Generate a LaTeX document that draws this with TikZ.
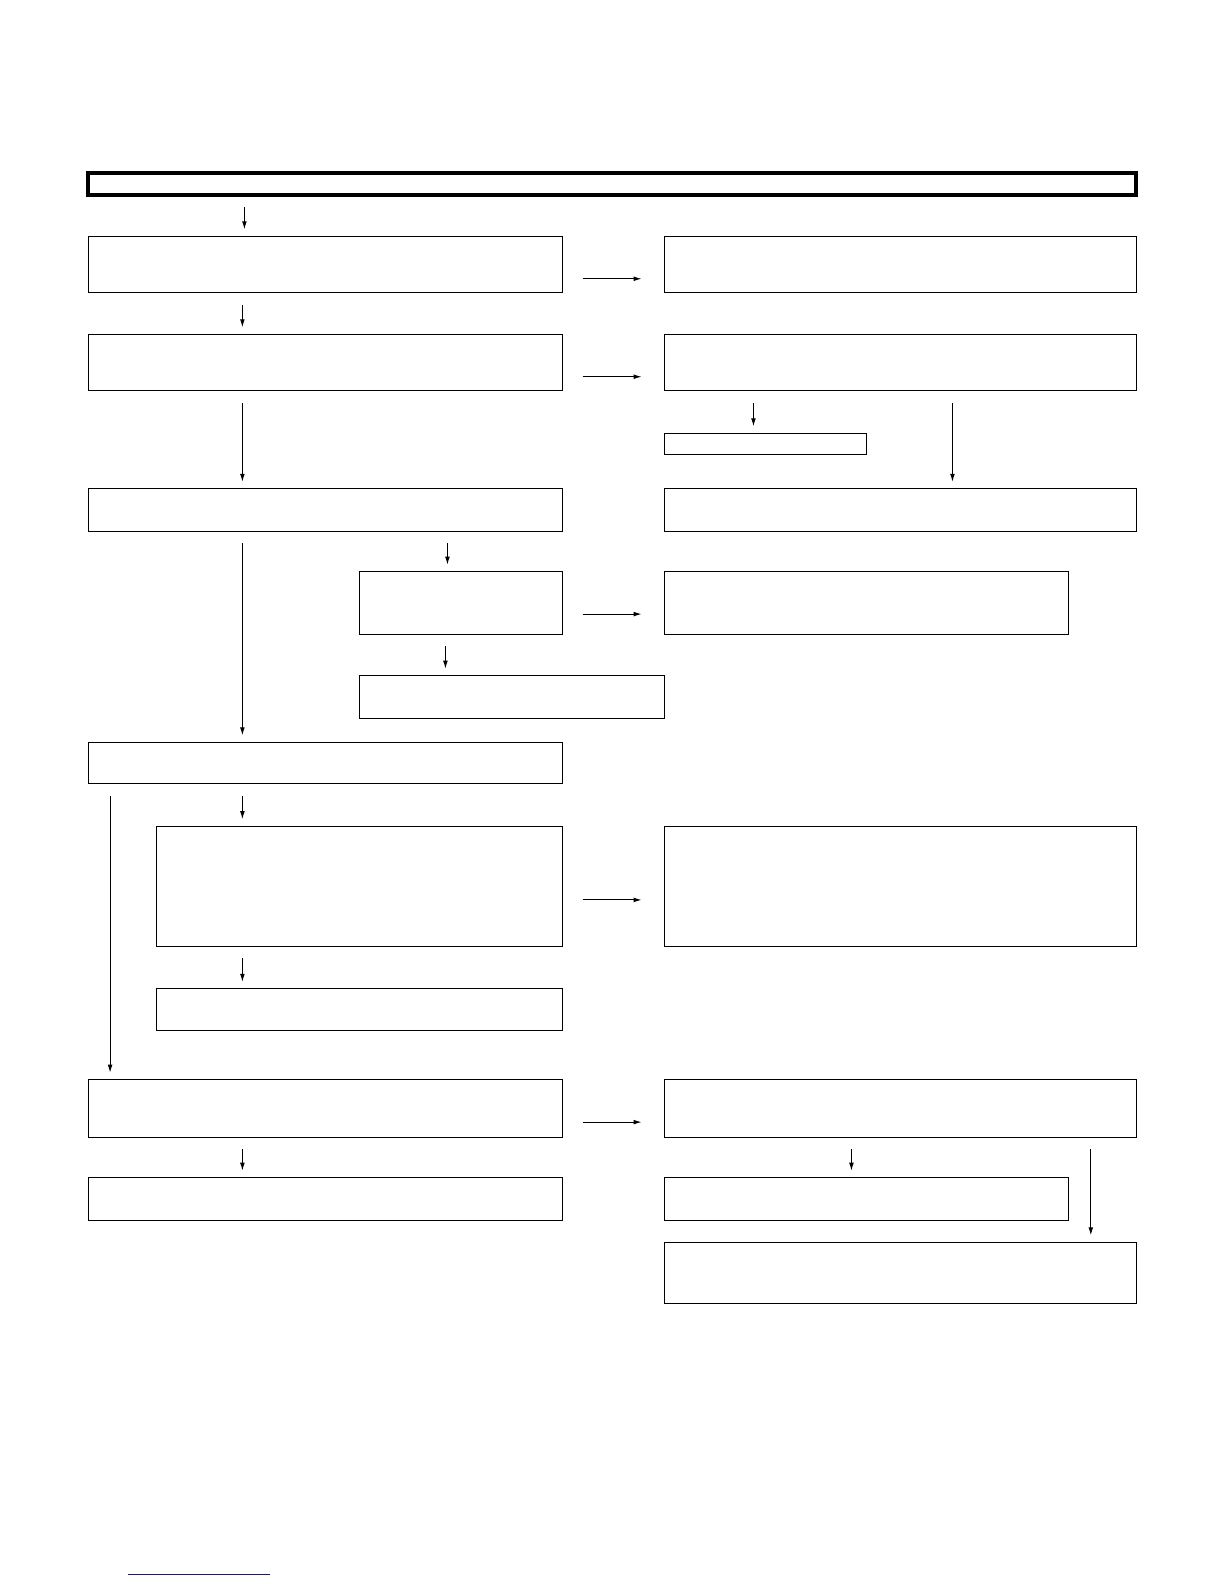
\documentclass[tikz,border=0pt]{standalone}
\usetikzlibrary{arrows.meta}
\definecolor{linkblue}{RGB}{25,25,120}

\begin{document}
\begin{tikzpicture}
[x=0.505pt,y=-0.505pt,line width=0.5pt,>={Latex[length=4pt,width=2.4pt]},
 every node/.style={draw=black,inner sep=0pt,outer sep=0pt,anchor=north west},
 box/.style 2 args={minimum width={#1*0.505pt},minimum height={#2*0.505pt}}]
\useasboundingbox (0pt,0pt) rectangle (612pt,-792pt);

\node[box={1038}{22},line width=2pt] (title) at (87,171) {};
\node[box={469}{56}] (a1) at (88,234) {};
\node[box={467}{56}] (b1) at (658,234) {};
\node[box={469}{56}] (a2) at (88,331) {};
\node[box={467}{56}] (b2) at (658,331) {};
\node[box={200}{21}] (s2) at (658,429) {};
\node[box={469}{42}] (a3) at (88,484) {};
\node[box={467}{42}] (b3) at (658,484) {};
\node[box={201}{62}] (c1) at (356,566) {};
\node[box={400}{62}] (d1) at (658,566) {};
\node[box={302}{42}] (c2) at (356,669) {};
\node[box={469}{41}] (a4) at (88,735) {};
\node[box={402}{119}] (e1) at (155,818) {};
\node[box={467}{119}] (f1) at (658,818) {};
\node[box={402}{41}] (e2) at (155,979) {};
\node[box={469}{57}] (a5) at (88,1069) {};
\node[box={467}{57}] (b5) at (658,1069) {};
\node[box={469}{42}] (a6) at (88,1166) {};
\node[box={400}{42}] (b6) at (658,1166) {};
\node[box={467}{61}] (b7) at (658,1230) {};

\foreach \x/\from/\to in {242/title/a1,240/a1/a2,240/a2/a3,746/b2/s2,943/b2/b3,240/a3/a4,443/a3/c1,441/c1/c2,109/a4/a5,240/a4/e1,240/e1/e2,240/a5/a6,843/b5/b6,1080/b5/b7}
\draw[->,shorten <=6pt,shorten >=3.5pt] (\from.south -| \x,0) -- (\to.north -| \x,0);

\foreach \y/\from/\to in {276/a1/b1,373/a2/b2,608/c1/d1,891/e1/f1,1111/a5/b5}
\draw[->,shorten <=10pt,shorten >=11.5pt] (\from.east |- 0,\y) -- (\to.west |- 0,\y);

\draw[linkblue,line width=0.8pt] (127,1559) -- (267,1559);
\end{tikzpicture}
\end{document}
